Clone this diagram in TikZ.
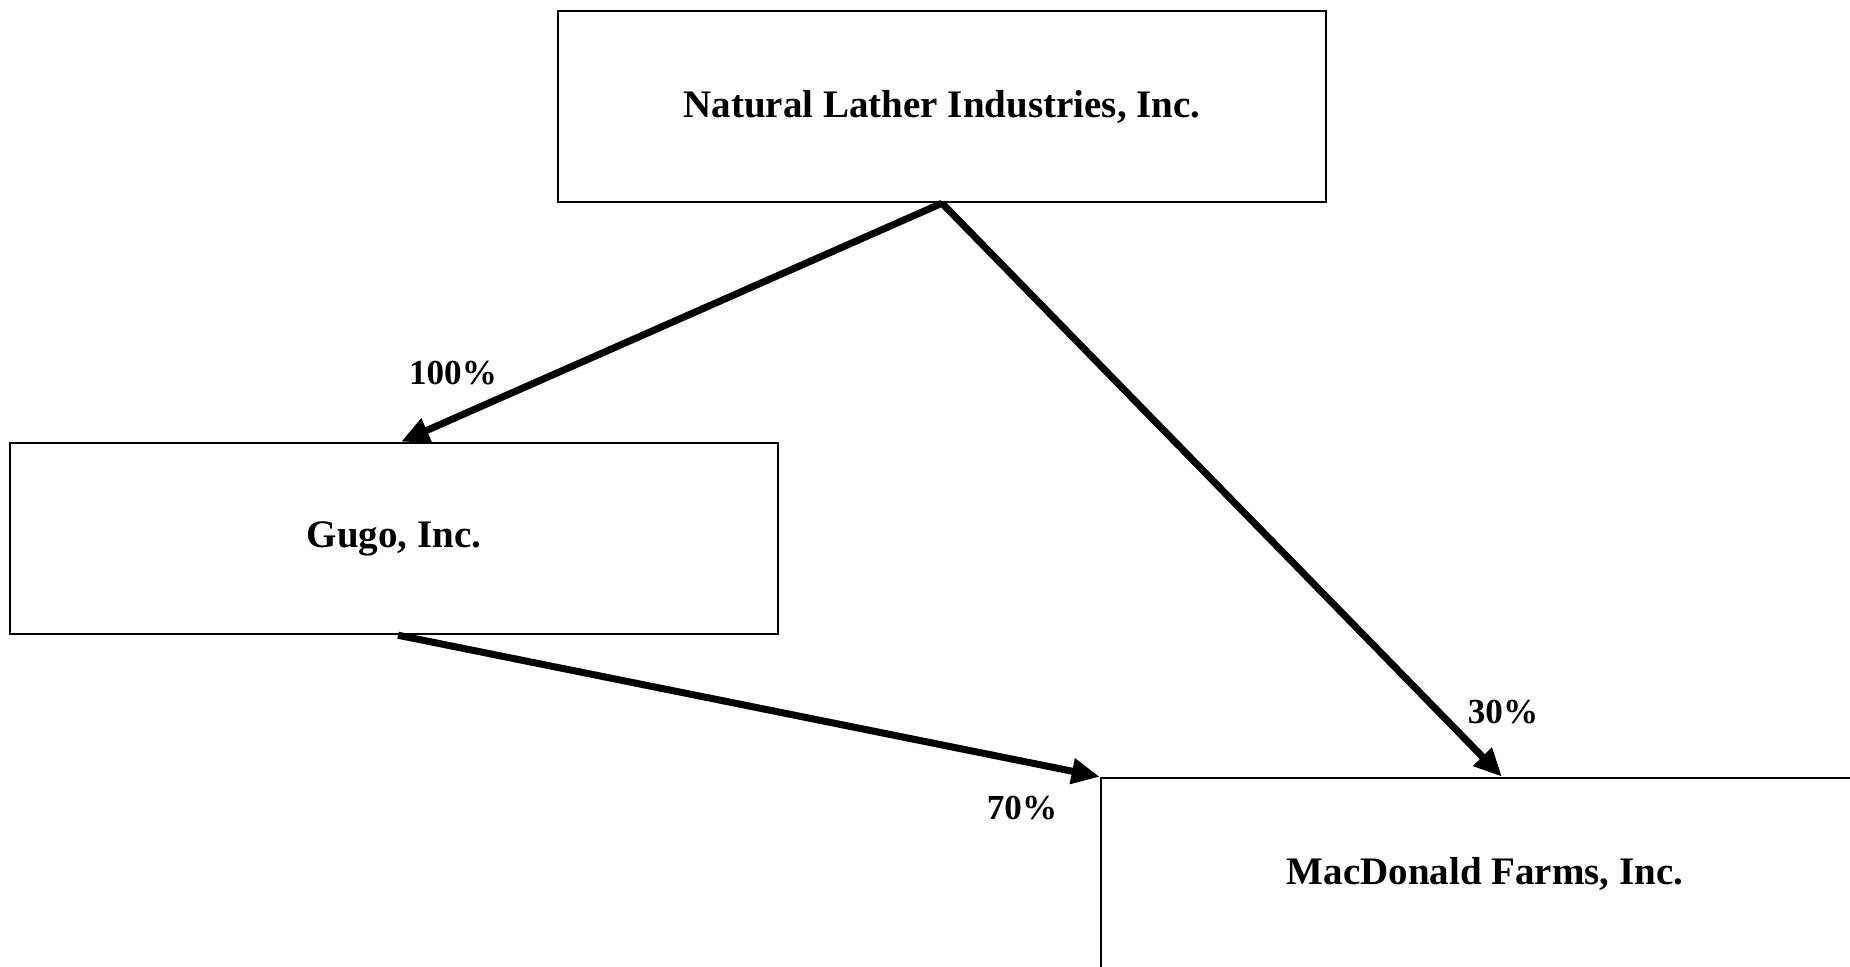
\documentclass[tikz,border=0pt]{standalone}
\usepackage{fontspec}
\setmainfont{Liberation Serif}
\usetikzlibrary{arrows.meta}
\newcommand{\firm}[1]{\fontsize{11.1}{13}\selectfont\bfseries #1}

\begin{document}
\begin{tikzpicture}

%
% Styles
%
\tikzstyle{company} = [rectangle,draw=black,line width=0.7pt,minimum width=7.68cm,minimum height=1.91cm,inner sep=0pt]
\tikzstyle{share} = [line width=2pt,-{Triangle[length=8pt,width=7pt]}]
\tikzstyle{pct} = [inner sep=0pt,font=\fontsize{10}{12}\selectfont\bfseries]

\useasboundingbox (0,0) rectangle (18.5,9.67);

\node[company] (nli) at ( 9.42, 8.605) {\firm{Natural Lather Industries, Inc.}};
\node[company] (gugo) at ( 3.94, 4.285) {\firm{Gugo, Inc.}};
\node[company] (mac) at (14.85, 0.935) {\firm{MacDonald Farms, Inc.}};

\draw[share] (nli.south) -- ([xshift=0.07cm]gugo.north);
\draw[share] (nli.south) -- ([xshift=0.17cm]mac.north);
\draw[share] ([xshift=0.04cm]gugo.south) -- (mac.north west);

\node[pct] (p100) at ( 4.53, 5.94) {100\%};
\node[pct] (p30) at (15.03, 2.55) {30\%};
\node[pct] (p70) at (10.22, 1.59) {70\%};

\end{tikzpicture}
\end{document}
